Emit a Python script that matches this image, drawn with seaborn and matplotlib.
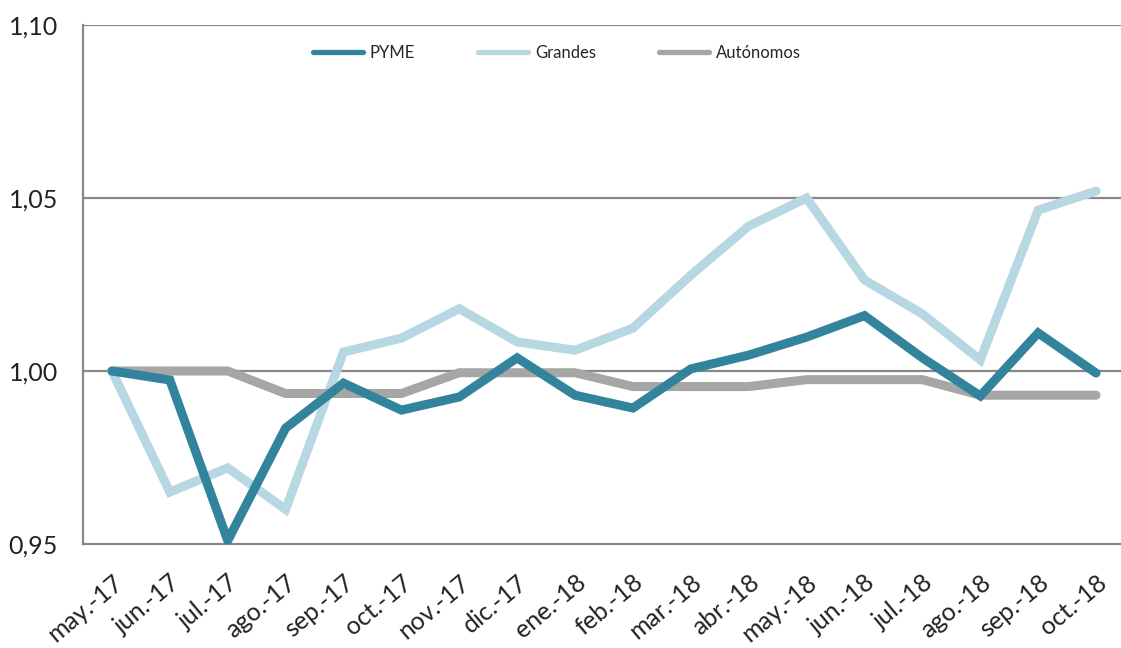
import matplotlib
matplotlib.use('Agg')
import matplotlib.pyplot as plt
import matplotlib.ticker as mticker
import seaborn as sns
import pandas as pd
import numpy as np

months = ['may.-17', 'jun.-17', 'jul.-17', 'ago.-17', 'sep.-17', 'oct.-17',
          'nov.-17', 'dic.-17', 'ene.-18', 'feb.-18', 'mar.-18', 'abr.-18',
          'may.-18', 'jun.-18', 'jul.-18', 'ago.-18', 'sep.-18', 'oct.-18']

pyme = [1.000, 0.9974, 0.951, 0.9835, 0.9965, 0.9887, 0.9925, 1.0038, 0.993,
        0.9893, 1.0006, 1.0046, 1.0098, 1.016, 1.0038, 0.9928, 1.011, 0.9994]
grandes = [1.000, 0.965, 0.972, 0.960, 1.0055, 1.0095, 1.018, 1.0084, 1.006,
           1.0124, 1.0277, 1.0419, 1.050, 1.0263, 1.0165, 1.0032, 1.0465, 1.052]
autonomos = [1.000, 1.000, 1.000, 0.9935, 0.9935, 0.9935, 0.9995, 0.9995, 0.9995,
             0.9955, 0.9955, 0.9955, 0.9975, 0.9975, 0.9975, 0.993, 0.993, 0.993]

series = {'PYME': pyme, 'Grandes': grandes, 'Autónomos': autonomos}
colors = {'PYME': '#31849b', 'Grandes': '#b7d7e2', 'Autónomos': '#a6a6a6'}

df = pd.DataFrame({'mes': months * 3,
                   'serie': np.repeat(list(series.keys()), len(months)),
                   'valor': pyme + grandes + autonomos})
df['x'] = np.tile(np.arange(len(months)), 3)

sns.set_style('white')
plt.rcParams['font.family'] = ['Lato', 'DejaVu Sans']

fig = plt.figure(figsize=(11.21, 6.48), dpi=100)
ax = fig.add_axes([83 / 1121, 104 / 648, 1042 / 1121, 519 / 648])

ax.set_ylim(0.95, 1.10)
ax.set_xlim(-0.5, len(months) - 0.5)
ax.set_yticks([0.95, 1.00, 1.05, 1.10])
ax.yaxis.set_major_formatter(mticker.FuncFormatter(lambda v, p: f'{v:.2f}'.replace('.', ',')))
for y in [1.00, 1.05, 1.10]:
    ax.axhline(y, color='#888888', lw=1.6, zorder=1)

# Grandes drawn first so PYME sits above it
for name in ['Grandes', 'Autónomos', 'PYME']:
    sub = df[df['serie'] == name]
    sns.lineplot(data=sub, x='x', y='valor', ax=ax, color=colors[name], lw=6.5,
                 solid_capstyle='round', solid_joinstyle='miter', zorder=3,
                 legend=False)

ax.set_xticks(np.arange(len(months) + 1) - 0.5, minor=False)
ax.set_xticklabels([])
ax.set_xticks(np.arange(len(months)), minor=True)
ax.set_xticklabels(months, minor=True, rotation=40, ha='right',
                   rotation_mode='anchor', fontsize=18, color='#222222')
ax.tick_params(axis='x', which='major', length=7, width=1.6, color='#888888', direction='out')
ax.tick_params(axis='x', which='minor', length=0, pad=19)
ax.tick_params(axis='y', which='major', length=7, width=1.6, color='#888888',
               direction='out', labelsize=18, labelcolor='#222222', pad=11)
ax.set_xlabel('')
ax.set_ylabel('')

for s in ['top', 'right']:
    ax.spines[s].set_visible(False)
for s in ['left', 'bottom']:
    ax.spines[s].set_color('#888888')
    ax.spines[s].set_linewidth(1.6)

handles = [plt.Line2D([], [], color=colors[n], lw=3.8, solid_capstyle='round')
           for n in ['PYME', 'Grandes', 'Autónomos']]
fig.legend(handles, ['PYME', 'Grandes', 'Autónomos'], loc='center left',
           bbox_to_anchor=(313 / 1121, 1 - 53 / 648), ncol=3, frameon=False,
           fontsize=12, handlelength=3.0, columnspacing=3.8, handletextpad=0.4,
           borderpad=0, borderaxespad=0)

fig.savefig('out.png', dpi=100)
